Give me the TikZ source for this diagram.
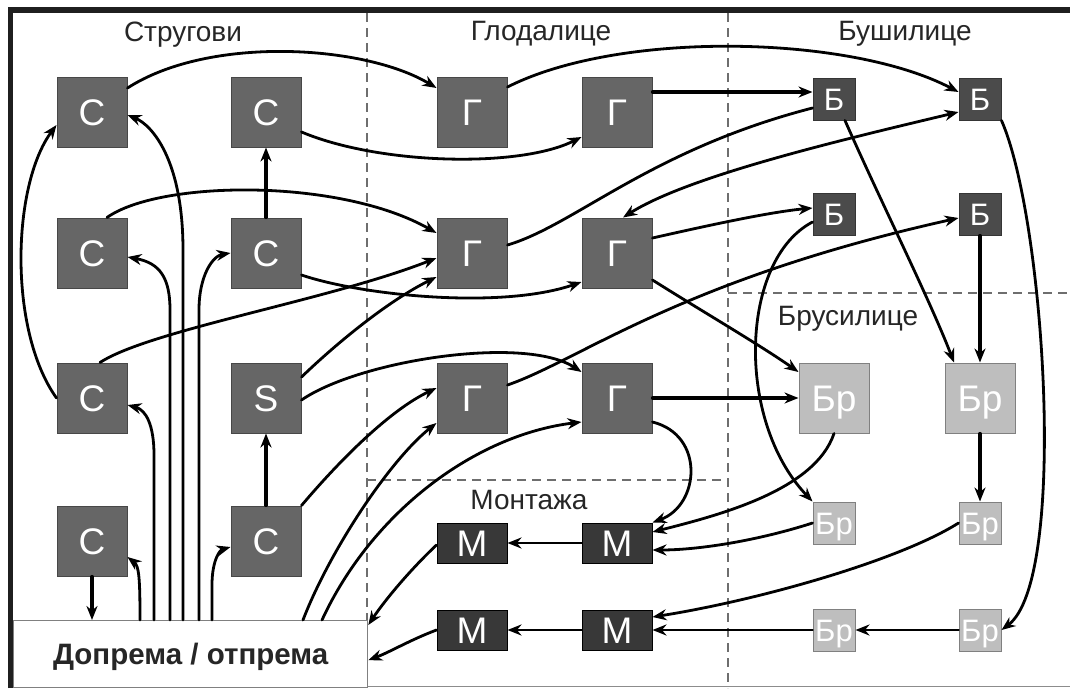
\documentclass[tikz,border=0pt]{standalone}
\usepackage{fontspec}
\setmainfont{Liberation Sans}
\usetikzlibrary{arrows.meta,calc}

\definecolor{latheC}{HTML}{666666}
\definecolor{drillB}{HTML}{4B4B4B}
\definecolor{asmM}{HTML}{383838}
\definecolor{grindBr}{HTML}{BEBEBE}
\definecolor{divider}{HTML}{6E6E6E}

\begin{document}
\begin{tikzpicture}[x=1pt,y=-1pt,
  unit/.style={rectangle, inner sep=0pt, text=white, line width=1pt,
    font=\fontsize{37}{37}\selectfont, text height=26.5pt, text depth=0pt},
  big/.style={unit, minimum width=70pt, minimum height=70pt},
  small/.style={unit, minimum width=42pt, minimum height=42pt,
    font=\fontsize{31}{31}\selectfont, text height=22.2pt},
  flat/.style={unit, minimum width=70pt, minimum height=40pt},
  lathe/.style={big, fill=latheC, draw=latheC!70!black},
  mill/.style={big, fill=latheC, draw=latheC!70!black},
  drill/.style={small, fill=drillB, draw=drillB!70!black},
  grind/.style={big, fill=grindBr, draw=black!50},
  grinds/.style={small, fill=grindBr, draw=black!50},
  asm/.style={flat, fill=asmM, draw=black},
  lbl/.style={font=\fontsize{28}{28}\selectfont, text=black!85, inner sep=0pt},
  zone/.style={draw=divider, line width=1.3pt, dash pattern=on 9pt off 6pt},
  link/.style={line width=2.8pt, line cap=round},
  flow/.style={link, -{Stealth[length=14pt,width=11pt]}},
  flowboth/.style={link, {Stealth[length=14pt,width=11pt]}-{Stealth[length=14pt,width=11pt]}},
  thickflow/.style={flow, line width=3.1pt}
]
\useasboundingbox (0,0) rectangle (1070,688);

% frame
\draw[line width=5.5pt, black!88] (10.5,688) -- (10.5,10) -- (1070,10);
\draw[black!45, line width=1pt] (13,686.5) -- (1070,686.5);

% zone dividers
\draw[zone] (367,13) -- (367,620);
\draw[zone] (728,13) -- (728,688);
\draw[zone] (728,293) -- (1070,293);
\draw[zone] (367,480) -- (728,480);

% zone titles
\node[lbl, anchor=base] (tLathe) at (183,41) {Стругови};
\node[lbl, anchor=base] (tMill) at (541,40) {Глодалице};
\node[lbl, anchor=base] (tDrill) at (905,40) {Бушилице};
\node[lbl, anchor=base] (tGrind) at (848,325) {Брусилице};
\node[lbl, anchor=base] (tAsm) at (529,509) {Монтажа};

% intake / dispatch
\node[draw=black!50, line width=1.3pt, fill=white, minimum width=354pt, minimum height=67pt,
  inner sep=0pt, anchor=north west, font=\bfseries\fontsize{29.5}{29.5}\selectfont,
  text height=21pt, text depth=0pt, text=black!85] (dop) at (13,620) {Допрема / отпрема};

% lathes
\node[lathe] (c11) at (92,112) {С};
\node[lathe] (c12) at (266,112) {С};
\node[lathe] (c21) at (92,253) {С};
\node[lathe] (c22) at (266,253) {С};
\node[lathe] (c31) at (92,398) {С};
\node[lathe] (s32) at (266,398) {S};
\node[lathe] (c41) at (92,541) {С};
\node[lathe] (c42) at (266,541) {С};

% milling machines
\node[mill] (g11) at (472,112) {Г};
\node[mill] (g12) at (617,112) {Г};
\node[mill] (g21) at (472,253) {Г};
\node[mill] (g22) at (617,253) {Г};
\node[mill] (g31) at (472,398) {Г};
\node[mill] (g32) at (617,398) {Г};

% drills
\node[drill] (b11) at (834,99) {Б};
\node[drill] (b12) at (980,99) {Б};
\node[drill] (b21) at (834,214) {Б};
\node[drill] (b22) at (980,214) {Б};

% grinders
\node[grind] (br1) at (834,398) {Бр};
\node[grind] (br2) at (980,398) {Бр};
\node[grinds] (br11) at (834,523) {Бр};
\node[grinds] (br12) at (980,523) {Бр};
\node[grinds] (br21) at (834,630) {Бр};
\node[grinds] (br22) at (980,630) {Бр};

% assembly
\node[asm] (m11) at (472,543) {М};
\node[asm] (m12) at (617,543) {М};
\node[asm] (m21) at (472,630) {М};
\node[asm] (m22) at (617,630) {М};

% taps on the intake box
\coordinate (tapA) at ($(dop.north west)+(127,0)$);
\coordinate (tapB) at ($(dop.north west)+(141,0)$);
\coordinate (tapC) at ($(dop.north west)+(157,0)$);
\coordinate (tapD) at ($(dop.north west)+(170,0)$);
\coordinate (tapE) at ($(dop.north west)+(186,0)$);
\coordinate (tapF) at ($(dop.north west)+(199,0)$);
\coordinate (tapG) at ($(dop.north west)+(290,0)$);
\coordinate (tapH) at ($(dop.north west)+(309,0)$);

% lathes -> mills, lathes -> lathes
\draw[flow] ($(c11.east)+(0,-24)$) .. controls (210,35) and (365,45) .. ($(g11.west)+(0,-24)$);
\draw[flow] ($(c12.east)+(0,20)$) .. controls (380,165) and (520,168) .. ($(g12.west)+(0,25)$);
\draw[thickflow] (c22.north) -- (c12.south);
\draw[flow] ($(c21.north)+(15,0)$) .. controls (160,180) and (340,178) .. ($(g21.west)+(0,-20)$);
\draw[flow] (c31.west) .. controls (8,330) and (12,185) .. ($(c11.west)+(0,13)$);
\draw[flow] ($(c22.east)+(0,22)$) .. controls (360,295) and (500,310) .. ($(g22.west)+(0,29)$);
\draw[flow] ($(c31.north)+(8,0)$) .. controls (150,330) and (330,300) .. ($(g21.west)+(0,5)$);
\draw[flow] ($(s32.east)+(0,-21)$) .. controls (340,340) and (390,300) .. ($(g21.west)+(0,24)$);
\draw[flow] ($(s32.east)+(0,2)$) .. controls (360,360) and (525,335) .. ($(g32.west)+(0,-26)$);
\draw[flow] (c42.north east) .. controls (340,460) and (390,410) .. ($(g31.west)+(0,-10)$);
\draw[thickflow] (c42.north) -- (s32.south);
\draw[thickflow] (c41.south) -- (c41.south |- dop.north);

% intake -> lathes
\draw[flow] (tapA) .. controls (140,578) and (139,566) .. ($(c41.east)+(0,16)$);
\draw[flow] (tapB) -- (154,455) .. controls (154,425) and (146,410) .. ($(c31.east)+(0,7)$);
\draw[flow] (tapC) -- (170,310) .. controls (170,278) and (160,263) .. ($(c21.east)+(0,4)$);
\draw[flow] (tapD) -- (183,250) .. controls (183,160) and (152,125) .. ($(c11.east)+(0,3)$);
\draw[flow] (tapE) -- (199,310) .. controls (199,275) and (213,256) .. (c22.west);
\draw[flow] (tapF) -- (212,585) .. controls (212,560) and (220,550) .. ($(c42.west)+(0,6)$);

% intake -> mills
\draw[flow] (tapG) .. controls (330,550) and (390,460) .. ($(g31.west)+(0,25)$);
\draw[flow] (tapH) .. controls (372,512) and (475,435) .. ($(g32.west)+(0,24)$);

% mills -> drills / grinders / assembly
\draw[flow] ($(g11.east)+(0,-25)$) .. controls (620,30) and (850,35) .. ($(b12.west)+(0,-7)$);
\draw[thickflow] ($(g12.east)+(0,-20)$) -- ($(b11.west)+(0,-7)$);
\draw[link] ($(g21.east)+(0,-8)$) .. controls (575,225) and (650,150) .. ($(b11.west)+(0,9)$);
\draw[flowboth] ($(g22.north)+(6,0)$) .. controls (690,175) and (850,138) .. ($(b12.west)+(0,13)$);
\draw[flow] ($(g22.east)+(0,-15)$) .. controls (710,225) and (770,212) .. ($(b21.west)+(0,-6)$);
\draw[flow] ($(g22.east)+(0,27)$) .. controls (700,310) and (760,345) .. ($(br1.west)+(0,-26)$);
\draw[flow] ($(g31.east)+(0,-13)$) .. controls (580,360) and (680,280) .. ($(b22.west)+(0,4)$);
\draw[thickflow] (g32.east) -- (br1.west);
\draw[flow] ($(g32.east)+(0,24)$) .. controls (705,435) and (700,505) .. (m12.north east);

% drills -> grinders
\draw[flow] ($(b21.west)+(0,8)$) .. controls (740,260) and (735,420) .. (br11.north west);
\draw[flow] ($(b11.south)+(11,0)$) .. controls (880,200) and (930,300) .. ($(br2.north)+(-26,0)$);
\draw[thickflow] (b22.south) -- (br2.north);
\draw[thickflow] (br2.south) -- (br12.north);
\draw[flow] (b12.south east) .. controls (1045,220) and (1068,580) .. (br22.east);
\draw[flow] (br22.west) -- (br21.east);

% grinders -> assembly
\draw[flow] (br21.west) -- (m22.east);
\draw[flow] (br12.west) .. controls (900,560) and (760,600) .. ($(m22.east)+(0,-13)$);
\draw[flow] (br11.west) .. controls (760,540) and (700,550) .. ($(m12.east)+(0,7)$);
\draw[flow] (br1.south) .. controls (815,490) and (720,515) .. ($(m12.east)+(0,-11)$);

% assembly -> dispatch
\draw[flow] (m12.west) -- (m11.east);
\draw[flow] (m22.west) -- (m21.east);
\draw[flow] ($(m11.west)+(0,2)$) .. controls (410,570) and (385,600) .. ($(dop.north east)+(0,5)$);
\draw[flow] (m21.west) .. controls (410,640) and (390,652) .. ($(dop.east)+(0,6)$);
\end{tikzpicture}
\end{document}
